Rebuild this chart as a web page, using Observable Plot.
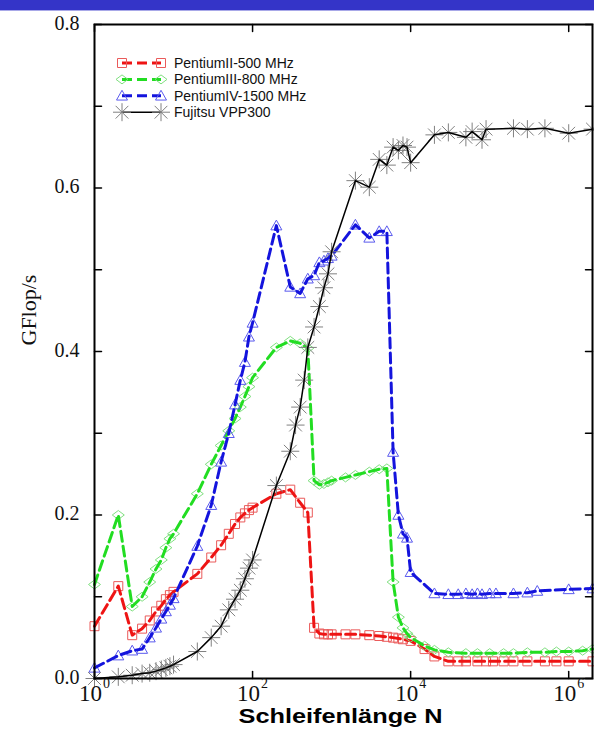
<!DOCTYPE html>
<html><head><meta charset="utf-8">
<script src="https://cdn.jsdelivr.net/npm/d3@7"></script>
<script src="https://cdn.jsdelivr.net/npm/@observablehq/plot@0.6"></script>
<style>
body{margin:0;background:#fff;}
#wrap{position:relative;width:594px;height:742px;overflow:hidden;background:#fff;}
#bar{position:absolute;left:0;top:0;width:594px;height:10px;background:#3434c8;}
#bar2{position:absolute;left:0;top:10px;width:594px;height:1px;background:#a8a8e8;}
</style></head>
<body><div id="wrap"><div id="chart"></div><div id="bar"></div><div id="bar2"></div></div>
<script>
// ---- data ----
const seriesNames = ["PentiumII-500 MHz", "PentiumIII-800 MHz", "PentiumIV-1500 MHz", "Fujitsu VPP300"];

const p2N = [1,2,3,4,5,6,7,8,9,10,20,30,40,50,60,70,80,90,100,200,300,400,500,600,700,800,900,1000,1500,2000,3000,4000,5000,6000,7000,8000,10000,15000,20000,30000,40000,50000,70000,90000,110000,150000,200000,300000,500000,700000,1000000,2000000];
const p2V = [0.064,0.113,0.053,0.061,0.071,0.082,0.089,0.097,0.102,0.106,0.128,0.148,0.163,0.177,0.189,0.197,0.202,0.206,0.209,0.226,0.231,0.215,0.203,0.062,0.055,0.054,0.054,0.054,0.054,0.054,0.053,0.052,0.051,0.050,0.049,0.048,0.046,0.036,0.027,0.021,0.021,0.021,0.021,0.021,0.021,0.021,0.021,0.021,0.021,0.021,0.021,0.021];

const p3N = [1,2,3,4,5,6,7,8,9,10,20,30,40,50,60,70,80,90,100,200,300,400,500,600,700,800,900,1000,1500,2000,3000,4000,5000,6000,7000,8000,9000,10000,15000,20000,30000,50000,70000,100000,150000,200000,300000,500000,700000,1000000,1500000,2000000];
const p3V = [0.115,0.200,0.088,0.100,0.118,0.134,0.145,0.160,0.171,0.177,0.226,0.262,0.285,0.303,0.318,0.332,0.345,0.357,0.368,0.405,0.413,0.410,0.404,0.242,0.237,0.238,0.240,0.242,0.246,0.249,0.253,0.256,0.257,0.118,0.075,0.062,0.055,0.050,0.040,0.035,0.032,0.031,0.031,0.031,0.031,0.031,0.032,0.032,0.033,0.033,0.034,0.036];

const p4N = [1,2,3,4,5,6,7,8,9,10,20,30,40,50,60,70,80,90,100,200,300,400,500,600,700,800,900,1000,2000,3000,4000,5000,6000,7000,8000,9000,10000,20000,30000,40000,50000,60000,70000,80000,100000,120000,200000,300000,400000,1000000,2000000];
const p4V = [0.013,0.028,0.034,0.036,0.050,0.062,0.073,0.082,0.090,0.098,0.162,0.212,0.265,0.300,0.335,0.365,0.387,0.418,0.435,0.554,0.479,0.471,0.489,0.493,0.509,0.511,0.514,0.517,0.555,0.539,0.547,0.547,0.277,0.200,0.177,0.172,0.130,0.104,0.103,0.103,0.104,0.103,0.104,0.103,0.104,0.104,0.104,0.105,0.107,0.109,0.110];

const fjN = [1,2,3,4,5,6,7,8,9,10,20,30,40,50,60,70,80,90,100,200,300,350,400,450,500,600,700,800,900,1000,2000,3000,4000,5000,6000,7000,8000,9000,10000,20000,30000,50000,60000,80000,90000,200000,300000,500000,1000000,2000000];
const fjV = [0.000,0.002,0.004,0.006,0.007,0.009,0.011,0.013,0.015,0.017,0.033,0.050,0.064,0.084,0.097,0.108,0.122,0.135,0.145,0.236,0.278,0.310,0.332,0.365,0.405,0.430,0.455,0.478,0.495,0.522,0.609,0.601,0.635,0.628,0.650,0.646,0.652,0.650,0.631,0.665,0.668,0.662,0.669,0.659,0.672,0.673,0.672,0.673,0.667,0.672];

const xTicks = [1, 1e2, 1e4, 1e6];
const xExp = ["0", "2", "4", "6"];
const yLabelTicks = [0, 0.2, 0.4, 0.6, 0.8];
const yAllTicks = [0, 0.1, 0.2, 0.3, 0.4, 0.5, 0.6, 0.7, 0.8];
const yTitle = "GFlop/s";
const xTitle = "Schleifenlänge N";

// ---- symbols ----
const symSquare = {draw(c, s){const r = Math.sqrt(s/Math.PI)*0.9; c.moveTo(-r,-r); c.lineTo(r,-r); c.lineTo(r,r); c.lineTo(-r,r); c.closePath();}};
const symDiamond = {draw(c, s){const r = Math.sqrt(s/Math.PI); c.moveTo(-1.2*r,0); c.lineTo(0,-0.9*r); c.lineTo(1.2*r,0); c.lineTo(0,0.9*r); c.closePath();}};
const symTri = {draw(c, s){const r = Math.sqrt(s/Math.PI); c.moveTo(0,-1.1*r); c.lineTo(1.1*r,0.85*r); c.lineTo(-1.1*r,0.85*r); c.closePath();}};
const symAst = {draw(c, s){const r = Math.sqrt(s/Math.PI); const d = r*Math.SQRT1_2;
  c.moveTo(-r,0); c.lineTo(r,0); c.moveTo(0,-r); c.lineTo(0,r);
  c.moveTo(-d,-d); c.lineTo(d,d); c.moveTo(-d,d); c.lineTo(d,-d);}};
const tickShape = {draw(c, l){ c.moveTo(0, 0); c.lineTo(0, -l); }};

const styles = [
  {N: p2N, V: p2V, line: "#ee1414", mark: "#ea5a5a", sym: symSquare, r: 5, dash: "10,5", lw: 3},
  {N: p3N, V: p3V, line: "#22dd22", mark: "#80e080", sym: symDiamond, r: 5, dash: "10,5", lw: 3},
  {N: p4N, V: p4V, line: "#1414dd", mark: "#5a5aee", sym: symTri, r: 5, dash: "10,5", lw: 3},
  {N: fjN, V: fjV, line: "#000000", mark: "#808080", sym: symAst, r: 9, dash: null, lw: 1.5}
];

const W = 594, H = 742, ML = 94, MR = 2, MT = 24, MB = 64, TL = 7;
const xDomain = [1, 2e6], yDomain = [0, 0.8];

const marks = [];
styles.forEach((st, k) => {
  const rows = st.N.map((n, i) => ({n, v: st.V[i], s: seriesNames[k]}));
  marks.push(Plot.dot(rows, {x: "n", y: "v", symbol: st.sym, r: st.r, stroke: st.mark, fill: "none", strokeWidth: 1}));
  marks.push(Plot.line(rows, {x: "n", y: "v", stroke: st.line, strokeWidth: st.lw, strokeDasharray: st.dash, curve: "linear"}));
});

const serif = "'Liberation Serif', 'Times New Roman', serif";
const sans = "'Liberation Sans', Arial, sans-serif";
const tickOpts = {length: TL, anchor: "start", shape: tickShape, stroke: "black", strokeWidth: 1.5};

const chart = Plot.plot({
  width: W,
  height: H,
  marginLeft: ML,
  marginRight: MR,
  marginTop: MT,
  marginBottom: MB,
  x: {type: "log", domain: xDomain, axis: null},
  y: {domain: yDomain, axis: null},
  style: {background: "white"},
  marks: [
    ...marks,
    // inward ticks on all four sides
    Plot.vector(yAllTicks, {x: () => xDomain[0], y: d => d, rotate: 90, ...tickOpts}),
    Plot.vector(yAllTicks, {x: () => xDomain[1], y: d => d, rotate: 270, ...tickOpts}),
    Plot.vector(xTicks, {x: d => d, y: () => yDomain[0], rotate: 0, ...tickOpts}),
    Plot.vector(xTicks, {x: d => d, y: () => yDomain[1], rotate: 180, ...tickOpts}),
    Plot.frame({stroke: "black", strokeWidth: 2}),
    Plot.text(yLabelTicks, {y: d => d, text: d => d.toFixed(1), frameAnchor: "left", textAnchor: "end", dx: -15, dy: -1, fontSize: 20, fontFamily: serif, fill: "#111"}),
    Plot.text(xTicks, {x: d => d, text: () => "10", frameAnchor: "bottom", dx: -4, dy: 22, fontSize: 23, fontFamily: serif, fill: "#111"}),
    Plot.text(xTicks, {x: d => d, text: (d, i) => xExp[i], frameAnchor: "bottom", dx: 12, dy: 9, fontSize: 14, fontFamily: serif, fill: "#111"}),
    Plot.text([yTitle], {text: d => d, frameAnchor: "left", rotate: -90, dx: -66, dy: -6, fontSize: 22, fontFamily: serif, fill: "#111"}),
    Plot.text([xTitle], {text: d => d, frameAnchor: "bottom", dx: -3, dy: 44, fontSize: 21, fontWeight: "bold", fontFamily: sans, fill: "#000"})
  ]
});
document.getElementById("chart").appendChild(chart);

// stretch x title like the reference
d3.select(chart).selectAll("text").filter(function(){ return this.textContent === xTitle; })
  .attr("textLength", 204).attr("lengthAdjust", "spacingAndGlyphs");

// ---- legend ----
const lg = d3.select(chart).append("g").attr("font-family", sans).attr("font-size", 14).attr("text-anchor", "start");
styles.forEach((st, k) => {
  const y = 63 + k * 16.4;
  const x1 = 122, x2 = 161;
  lg.append("line").attr("x1", x1).attr("x2", x2).attr("y1", y).attr("y2", y)
    .attr("stroke", st.line).attr("stroke-width", st.lw).attr("stroke-dasharray", st.dash);
  [x1, x2].forEach(x => {
    lg.append("path").attr("d", d3.symbol(st.sym, Math.PI * st.r * st.r)())
      .attr("transform", `translate(${x},${y})`).attr("fill", "none").attr("stroke", st.mark).attr("stroke-width", 1);
  });
  lg.append("text").attr("x", 174).attr("y", y).attr("dy", "0.35em").attr("text-anchor", "start").attr("fill", "#111").text(seriesNames[k]);
});
</script>
</body></html>
